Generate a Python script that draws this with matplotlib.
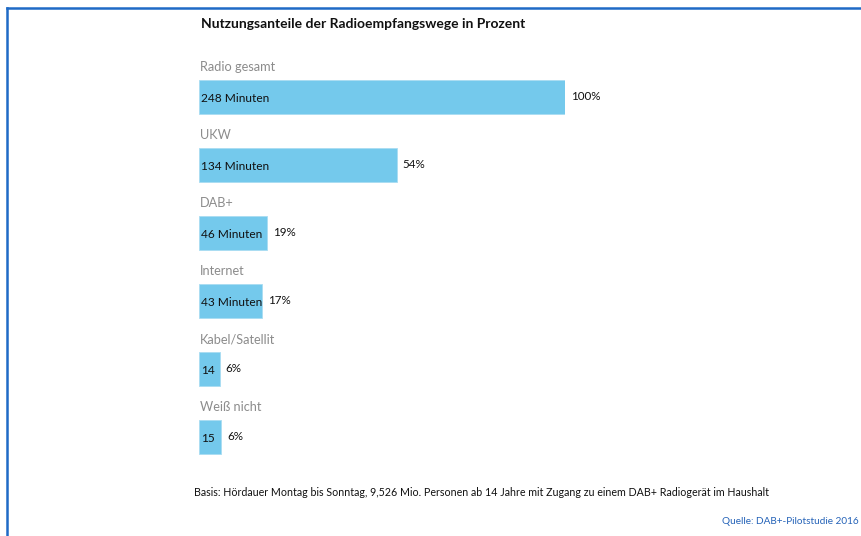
import matplotlib
matplotlib.use("Agg")
import matplotlib.pyplot as plt
from matplotlib.lines import Line2D

categories = ["Radio gesamt", "UKW", "DAB+", "Internet", "Kabel/Satellit", "Weiß nicht"]
minutes = [248, 134, 46, 43, 14, 15]
value_labels = ["248 Minuten", "134 Minuten", "46 Minuten", "43 Minuten", "14", "15"]
percents = ["100%", "54%", "19%", "17%", "6%", "6%"]

title = "Nutzungsanteile der Radioempfangswege in Prozent"
footnote = "Basis: Hördauer Montag bis Sonntag, 9,526 Mio. Personen ab 14 Jahre mit Zugang zu einem DAB+ Radiogerät im Haushalt"
source = "Quelle: DAB+-Pilotstudie 2016"

plt.rcParams['font.family'] = ['Lato', 'DejaVu Sans']

W, H = 862, 536
fig = plt.figure(figsize=(W / 100, H / 100), dpi=100)
fig.patch.set_facecolor("white")

# axes: x 0..248 spans pixels 199..565; y spans pixels 63..471
ax = fig.add_axes([199 / W, 1 - 471 / H, 366 / W, 408 / H])
ax.set_xlim(0, 248)
ax.set_ylim(len(categories) - 0.5, -0.5)
ax.axis("off")

bar_color = "#74c9ec"
ys = list(range(len(categories)))
ax.barh(ys, minutes, height=0.5, color=bar_color, edgecolor="#a9dcf2", linewidth=0.6)

for y, cat, m, vl, p in zip(ys, categories, minutes, value_labels, percents):
    ax.text(0.5, y - 0.44, cat, ha="left", va="center", fontsize=9.2, color="#8c8c8c")
    ax.text(1.2, y + 0.02, vl, ha="left", va="center", fontsize=8.6, color="#111111")
    ax.text(m + 4.0, y, p, ha="left", va="center", fontsize=8.4, color="#111111", clip_on=False)

fig.text(201 / W, 1 - 24 / H, title, ha="left", va="center", fontsize=10,
         fontweight="bold", color="#111111")
fig.text(194 / W, 1 - 492 / H, footnote, ha="left", va="center", fontsize=7.7, color="#111111")
fig.text(859 / W, 1 - 521 / H, source, ha="right", va="center", fontsize=7.2, color="#2563b8")

# frame lines (top and left)
border = "#1f6ac6"
fig.add_artist(Line2D([7 / W, 1], [1 - 8 / H, 1 - 8 / H], transform=fig.transFigure,
                      color=border, linewidth=1.8))
fig.add_artist(Line2D([7 / W, 7 / W], [0, 1 - 8 / H], transform=fig.transFigure,
                      color=border, linewidth=1.8))

fig.savefig("out.png", dpi=100, facecolor="white")
